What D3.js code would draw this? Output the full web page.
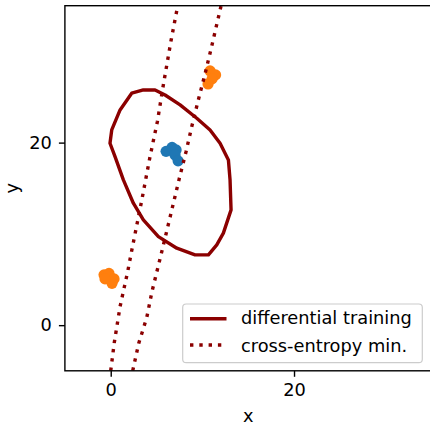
<!DOCTYPE html>
<html>
<head>
<meta charset="utf-8">
<script src="https://cdn.jsdelivr.net/npm/d3@7"></script>
<style>
  body { margin: 0; background: #fff; }
  svg { display: block; font-family: "DejaVu Sans", sans-serif; }
</style>
</head>
<body>
<div id="chart"></div>
<script>
// Scatter clusters
const blueX = [6.04, 6.69, 7.13, 7.02, 7.35];
const blueY = [19.04, 19.47, 19.20, 18.65, 18.0];
const orangeX = [10.84, 11.44, 11.06, 10.62, -0.73, -0.19, 0.36, 0.14, -0.62];
const orangeY = [27.85, 27.42, 26.98, 26.43, 5.51, 5.67, 5.07, 4.58, 5.07];

// Closed contour: differential training
const diffX = [2.29, 3.56, 4.84, 5.93, 7.57, 9.39, 10.84, 11.93, 12.84, 13.02, 13.13, 12.29,
  11.57, 10.66, 9.20, 7.21, 5.20, 3.56, 2.47, 1.38, 0.47, -0.08, 0.11, 1.02];
const diffY = [25.41, 25.77, 25.77, 25.22, 24.13, 22.67, 21.39, 19.93, 18.10, 15.91, 12.63, 10.08,
  8.80, 7.70, 7.70, 8.43, 9.70, 11.53, 13.36, 15.91, 18.47, 19.93, 21.39, 23.58];

// Two boundary lines: cross-entropy min.
const ceLeftX = [0, 0.39, 1.02, 1.86, 2.22, 3.38, 4.29, 5.09, 5.74, 6.58, 7.31];
const ceLeftY = [-5, -1.9, 2.04, 5.91, 7.81, 13.65, 18.47, 22.30, 26.32, 31.17, 35];
const ceRightX = [2.40, 3.06, 3.93, 4.51, 5.46, 6.58, 7.49, 8.22, 8.84, 9.56, 10.29, 10.98, 11.64, 12.04];
const ceRightY = [-5, -1.97, 0.83, 3.72, 7.59, 12.27, 16.10, 19.01, 21.75, 24.68, 27.52, 30.40, 33.25, 35];

const xTicks = [0, 20];
const yTicks = [0, 20];
const legendLabels = ['differential training', 'cross-entropy min.'];

const W = 430, H = 425;
const pLeft = 64.9, pRight = 431.5, pTop = 5.7, pBottom = 370.8;
const darkRed = '#8b0000';
const fontSize = 17.8;

const x = d3.scaleLinear().domain([-5, 35]).range([pLeft, pRight]);
const y = d3.scaleLinear().domain([-5, 35]).range([pBottom, pTop]);

const svg = d3.select('#chart').append('svg')
  .attr('width', W).attr('height', H);

svg.append('defs').append('clipPath').attr('id', 'clip')
  .append('rect')
  .attr('x', pLeft).attr('y', pTop)
  .attr('width', pRight - pLeft).attr('height', pBottom - pTop);

const plot = svg.append('g').attr('clip-path', 'url(#clip)');

const zip = (xs, ys) => xs.map((v, i) => [v, ys[i]]);

plot.append('g').selectAll('circle')
  .data(zip(blueX, blueY))
  .join('circle')
  .attr('cx', d => x(d[0])).attr('cy', d => y(d[1]))
  .attr('r', 5.6).attr('fill', '#1f77b4');

plot.append('g').selectAll('circle')
  .data(zip(orangeX, orangeY))
  .join('circle')
  .attr('cx', d => x(d[0])).attr('cy', d => y(d[1]))
  .attr('r', 5.6).attr('fill', '#ff7f0e');

const line = d3.line().x(d => x(d[0])).y(d => y(d[1]));
const closed = d3.line().x(d => x(d[0])).y(d => y(d[1])).curve(d3.curveLinearClosed);

plot.append('path')
  .attr('d', closed(zip(diffX, diffY)))
  .attr('fill', 'none').attr('stroke', darkRed)
  .attr('stroke-width', 3.4).attr('stroke-linejoin', 'round');

[zip(ceLeftX, ceLeftY), zip(ceRightX, ceRightY)].forEach(pts => {
  plot.append('path')
    .attr('d', line(pts))
    .attr('fill', 'none').attr('stroke', darkRed)
    .attr('stroke-width', 3.4).attr('stroke-dasharray', '3.4,5.9');
});

// Axes
const xAxis = svg.append('g')
  .attr('transform', `translate(0,${pBottom})`)
  .call(d3.axisBottom(x).tickValues(xTicks).tickSize(6).tickPadding(7).tickSizeOuter(0));
const yAxis = svg.append('g')
  .attr('transform', `translate(${pLeft},0)`)
  .call(d3.axisLeft(y).tickValues(yTicks).tickSize(6).tickPadding(7).tickSizeOuter(0));

[xAxis, yAxis].forEach(a => {
  a.select('.domain').remove();
  a.selectAll('line').attr('stroke', '#000').attr('stroke-width', 1.4);
  a.selectAll('text')
    .attr('fill', '#000')
    .style('font-size', fontSize + 'px')
    .style('font-family', '"DejaVu Sans", sans-serif');
});

// Spines
svg.append('rect')
  .attr('x', pLeft).attr('y', pTop)
  .attr('width', pRight - pLeft).attr('height', pBottom - pTop)
  .attr('fill', 'none').attr('stroke', '#000').attr('stroke-width', 1.4);

svg.append('text')
  .attr('x', (pLeft + pRight) / 2).attr('y', 422)
  .attr('text-anchor', 'middle')
  .style('font-size', fontSize + 'px')
  .text('x');

svg.append('text')
  .attr('transform', `translate(17.5,${(pTop + pBottom) / 2}) rotate(-90)`)
  .attr('text-anchor', 'middle')
  .style('font-size', fontSize + 'px')
  .text('y');

// Legend
const legend = svg.append('g');
legend.append('rect')
  .attr('x', 182.7).attr('y', 304)
  .attr('width', 239.6).attr('height', 58.7)
  .attr('rx', 3.5)
  .attr('fill', '#fff').attr('fill-opacity', 0.8)
  .attr('stroke', '#cccccc').attr('stroke-width', 1.2);

const rows = [
  { label: legendLabels[0], dash: null, ly: 318.7, ty: 324.3 },
  { label: legendLabels[1], dash: '3.4,5.9', ly: 345, ty: 351.7 }
];
rows.forEach(r => {
  legend.append('line')
    .attr('x1', 190).attr('x2', 226.5)
    .attr('y1', r.ly).attr('y2', r.ly)
    .attr('stroke', darkRed).attr('stroke-width', 3.4)
    .attr('stroke-dasharray', r.dash);
  legend.append('text')
    .attr('x', 241).attr('y', r.ty)
    .style('font-size', fontSize + 'px')
    .text(r.label);
});
</script>
</body>
</html>
